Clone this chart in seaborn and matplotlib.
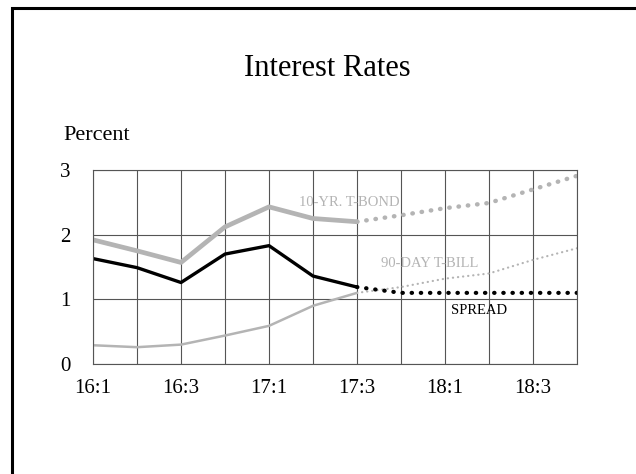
import numpy as np
import pandas as pd
import seaborn as sns
import matplotlib.pyplot as plt
from matplotlib.patches import Rectangle

# quarters 16:1 .. 18:4
quarters = ['16:1', '16:2', '16:3', '16:4', '17:1', '17:2', '17:3', '17:4',
            '18:1', '18:2', '18:3', '18:4']
tick_labels = ['16:1', '16:3', '17:1', '17:3', '18:1', '18:3']

# actuals (16:1 - 17:3)
tbond_actual = [1.92, 1.75, 1.57, 2.12, 2.43, 2.25, 2.20]
tbill_actual = [0.29, 0.26, 0.30, 0.44, 0.59, 0.90, 1.10]
spread_actual = [1.63, 1.49, 1.26, 1.70, 1.83, 1.36, 1.19]

# forecasts (17:3 - 18:4)
tbond_fcst = [2.20, 2.30, 2.41, 2.49, 2.70, 2.91]
tbill_fcst = [1.10, 1.19, 1.32, 1.40, 1.61, 1.79]
spread_fcst = [1.19, 1.10, 1.10, 1.10, 1.10, 1.10]

n_act = len(tbond_actual)
x_act = np.arange(n_act)
x_fc = np.arange(n_act - 1, len(quarters))

sns.set_theme(style='white')
plt.rcParams['font.family'] = ['Liberation Serif', 'DejaVu Serif']
plt.rcParams['text.color'] = 'black'

fig = plt.figure(figsize=(6.36, 4.74), dpi=100)
ax = fig.add_axes([93/636, 1 - 364/474, 484/636, 194/474])

gray = '#b4b4b4'

df_act = pd.DataFrame({'x': x_act, 'tbond': tbond_actual, 'tbill': tbill_actual, 'spread': spread_actual})
df_fc = pd.DataFrame({'x': x_fc, 'tbond': tbond_fcst, 'tbill': tbill_fcst, 'spread': spread_fcst})

sns.lineplot(data=df_act, x='x', y='tbond', ax=ax, color=gray, linewidth=3.4)
sns.lineplot(data=df_act, x='x', y='tbill', ax=ax, color=gray, linewidth=1.8)
sns.lineplot(data=df_act, x='x', y='spread', ax=ax, color='black', linewidth=2.4)

sns.lineplot(data=df_fc, x='x', y='tbond', ax=ax, color=gray, linewidth=3.2,
             linestyle=(0, (0.1, 2.0)), dash_capstyle='round')
sns.lineplot(data=df_fc, x='x', y='tbill', ax=ax, color=gray, linewidth=1.6,
             linestyle=(0, (0.1, 2.2)), dash_capstyle='round')
sns.lineplot(data=df_fc, x='x', y='spread', ax=ax, color='black', linewidth=3.0,
             linestyle=(0, (0.1, 2.1)), dash_capstyle='round')

ax.set_xlim(0, len(quarters) - 1)
ax.set_ylim(0, 3)
ax.set_xticks(range(0, len(quarters), 2))
ax.set_xticklabels(tick_labels)
ax.set_xticks(range(len(quarters)), minor=True)
ax.set_yticks([0, 1, 2, 3])
ax.grid(True, which='both', color='#555555', linewidth=0.8)
ax.set_axisbelow(True)
for s in ax.spines.values():
    s.set_color('#555555')
    s.set_linewidth(0.8)
ax.tick_params(axis='both', which='both', length=0, labelsize=15, colors='black')
ax.tick_params(axis='x', pad=11)
ax.tick_params(axis='y', pad=16)
ax.set_xlabel('')
ax.set_ylabel('')

ax.text(5.82, 2.50, '10-YR. T-BOND', color=gray, fontsize=10.5, ha='center', va='center')
ax.text(7.66, 1.55, '90-DAY T-BILL', color=gray, fontsize=10.5, ha='center', va='center')
ax.text(8.78, 0.82, 'SPREAD', color='black', fontsize=10.5, ha='center', va='center')

fig.text(327/636, 1 - 68/474, 'Interest Rates', fontsize=22, color='black', ha='center', va='center')
fig.text(63/636, 1 - 135/474, 'Percent', fontsize=16, color='black', ha='left', va='center')

# outer frame
fig.patches.append(Rectangle((12/636, -0.1), 1.0, 1 - 8/474 + 0.1, transform=fig.transFigure,
                             fill=False, edgecolor='black', linewidth=2.2))

fig.savefig('out.png', dpi=100)
